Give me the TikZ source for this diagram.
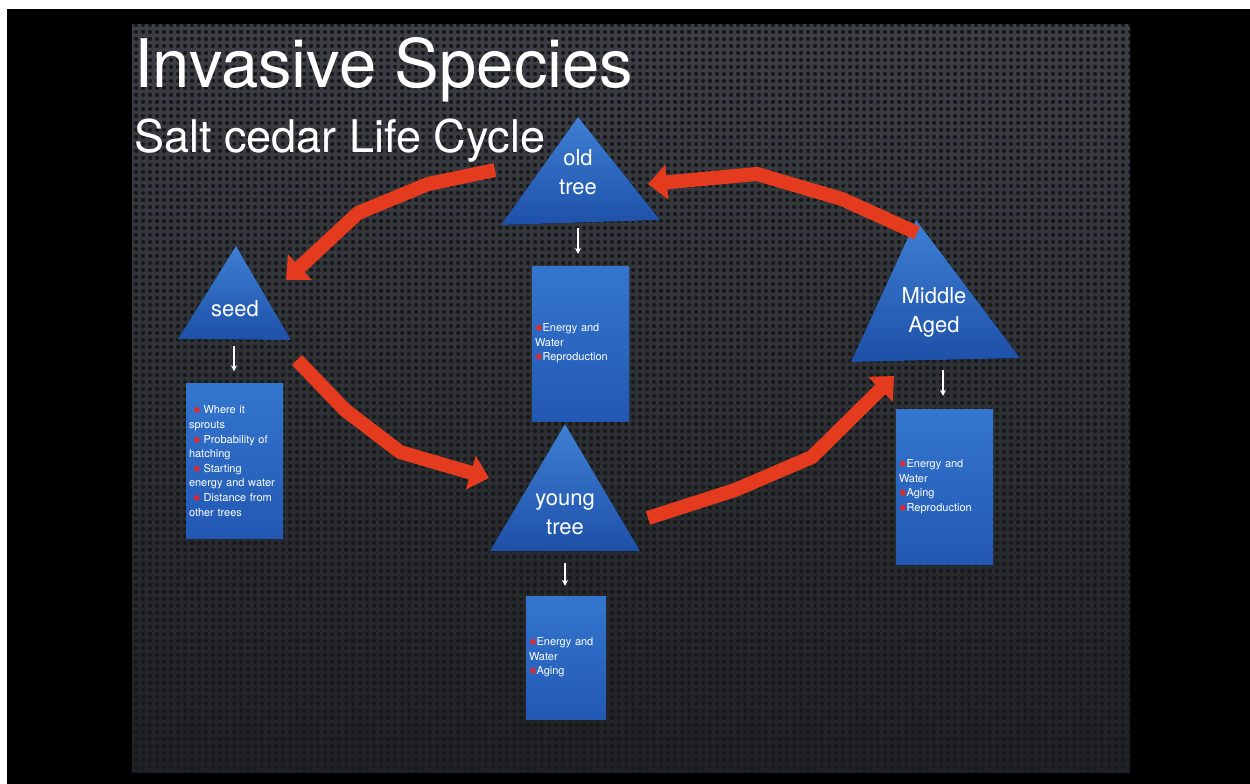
\documentclass[tikz,border=0pt]{standalone}
\usepackage{fontspec}
\setmainfont{TeX Gyre Heros}
\newfontfamily\symfont{DejaVu Sans}
\usepackage{tikz}
\usetikzlibrary{
  arrows.meta,%
  patterns,%
  calc,%
  positioning
}
\definecolor{meshtop}{RGB}{60,64,70}
\definecolor{meshbot}{RGB}{30,33,37}
\definecolor{bluetop}{RGB}{62,128,212}
\definecolor{bluebot}{RGB}{30,80,168}
\definecolor{boxtop}{RGB}{52,118,206}
\definecolor{boxbot}{RGB}{34,88,180}
\definecolor{arrowred}{RGB}{228,58,30}
\definecolor{bulletred}{RGB}{240,36,30}
% honeycomb-ish holes of the slide background
\pgfdeclarepatternformonly{holes}{\pgfpointorigin}{\pgfqpoint{7pt}{7pt}}%
  {\pgfqpoint{7pt}{7pt}}%
  {\pgfpathcircle{\pgfqpoint{3.5pt}{3.5pt}}{2.4pt}\pgfusepath{fill}}
\newcommand{\bul}{{\symfont\color{bulletred}\fontsize{9}{9}\selectfont ✱}}
\tikzset{
  tri/.style={top color=bluetop, bottom color=bluebot, draw=none},
  trilabel/.style={text=white, align=center, inner sep=0pt,
    font=\fontsize{22}{29}\selectfont},
  infobox/.style={top color=boxtop, bottom color=boxbot,
    minimum width=97pt, text width=91pt, inner xsep=3pt, inner ysep=0pt,
    align=left, text=white, font=\fontsize{11}{14.6}\selectfont},
  cyclearrow/.style={draw=arrowred, line width=14pt, line join=miter,
    -{Triangle[length=19pt, width=34pt]}},
  downarrow/.style={white, line width=1.6pt, -{Stealth[length=6pt, width=6pt]}},
}

\begin{document}
\begin{tikzpicture}[x=1pt, y=-1pt]
  \useasboundingbox (0, 0) rectangle (1250, 784);
  \fill[white] (0, 0) rectangle (1250, 784);
  \fill[black] (7, 9) rectangle (1250, 784);
  \shade[top color=meshtop, bottom color=meshbot] (132, 25) rectangle (1130, 772);
  \fill[pattern=holes, pattern color=black!90] (132, 25) rectangle (1130, 772);

  % titles
  \node[anchor=base west, inner sep=0pt, white, font=\fontsize{67}{67}\selectfont]
    (title) at (134, 88) {Invasive Species};
  \node[anchor=base west, inner sep=0pt, white, font=\fontsize{45}{45}\selectfont]
    (subtitle) at (134, 152) {Salt cedar Life Cycle};

  % stages
  \fill[tri] (236, 246) -- (178, 339) -- (291, 340) -- cycle; %
  \fill[tri] (578, 117) -- (501, 225) -- (660, 220) -- cycle; %
  \fill[tri] (565, 424) -- (490, 551) -- (640, 551) -- cycle; %
  \fill[tri] (916, 220) -- (851, 362) -- (1020, 358) -- cycle; %
  \node[trilabel] (seed) at (235, 309) {seed};
  \node[trilabel] (old) at (578, 172) {old\\tree};
  \node[trilabel] (young) at (565, 514) {young\\tree};
  \node[trilabel] (middle) at (934, 312) {Middle\\Aged};

  % what each stage keeps track of
  \node[infobox, minimum height=155pt] (seedbox) at (234.5, 461) {%
    \hspace*{4pt}\bul\hspace{3pt}Where it\\sprouts\\
    \hspace*{4pt}\bul\hspace{3pt}Probability of\\hatching\\
    \hspace*{4pt}\bul\hspace{3pt}Starting\\energy and water\\
    \hspace*{4pt}\bul\hspace{3pt}Distance from\\other trees};
  \node[infobox, minimum height=155pt] (oldbox) at (580.5, 343.5) {%
    \bul Energy and\\Water\\\bul Reproduction};
  \node[infobox, minimum height=155pt] (middlebox) at (944.5, 486.5) {%
    \bul Energy and\\Water\\\bul Aging\\\bul Reproduction};
  \node[infobox, minimum height=123pt, minimum width=80pt, text width=74pt]
    (youngbox) at (566, 657.5) {%
    \bul Energy and\\Water\\\bul Aging};

  \coordinate (seedfoot) at (234, 346); %
  \coordinate (oldfoot) at (578, 228); %
  \coordinate (youngfoot) at (565, 563); %
  \coordinate (middlefoot) at (943, 370); %
  \draw[downarrow, shorten >=12pt] (seedfoot) -- (seedfoot |- seedbox.north);
  \draw[downarrow, shorten >=12pt] (oldfoot) -- (oldfoot |- oldbox.north);
  \draw[downarrow, shorten >=10pt] (youngfoot) -- (youngfoot |- youngbox.north);
  \draw[downarrow, shorten >=13pt] (middlefoot) -- (middlefoot |- middlebox.north);

  % life cycle
  \coordinate (oldtail) at (495, 170); \coordinate (seedtip) at (286, 280);
  \coordinate (seedtail) at (297, 360); \coordinate (youngtip) at (489, 478);
  \coordinate (youngtail) at (648, 518); \coordinate (middletip) at (894, 376);
  \coordinate (middletail) at (917, 233); \coordinate (oldtip) at (648, 184);
  \draw[cyclearrow] (oldtail) -- (428, 184) -- (358, 213) -- (seedtip);
  \draw[cyclearrow] (seedtail) -- (345, 410) -- (400, 452) -- (youngtip);
  \draw[cyclearrow] (youngtail) -- (735, 490) -- (812, 457) -- (middletip);
  \draw[cyclearrow] (middletail) -- (842, 199) -- (757, 174) -- (oldtip);
\end{tikzpicture}
\end{document}
